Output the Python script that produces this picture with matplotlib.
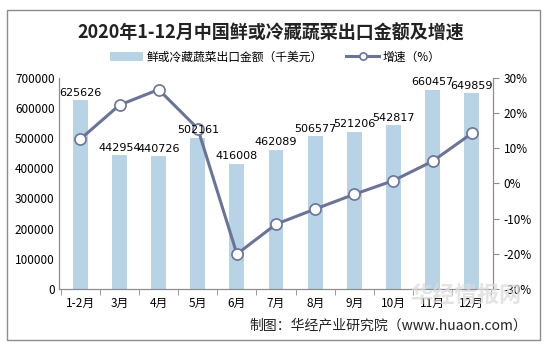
import matplotlib.pyplot as plt
import matplotlib.patches as patches
import numpy as np

plt.rcParams['font.family'] = ['Noto Sans CJK SC', 'DejaVu Sans']

# data
months = ['1-2月', '3月', '4月', '5月', '6月', '7月', '8月', '9月', '10月', '11月', '12月']
export_value = [625626, 442954, 440726, 502161, 416008, 462089, 506577, 521206, 542817, 660457, 649859]
growth = [12.6, 22.3, 26.7, 15.6, -20.1, -11.6, -7.3, -3.1, 0.8, 6.3, 14.2]

bar_color = '#b7d3e5'
line_color = '#6a7398'
axis_color = '#8c8c8c'

fig = plt.figure(figsize=(5.45, 3.48), dpi=100)
ax = fig.add_axes([0.108, 0.170, 0.797, 0.606])
x = np.arange(len(months))

ax.bar(x, export_value, width=0.38, color=bar_color, label='鲜或冷藏蔬菜出口金额（千美元）', zorder=1)

ax.set_ylim(0, 700000)
ax.set_yticks(range(0, 700001, 100000))
ax.set_xlim(-0.55, len(months) - 0.45)
ax.set_xticks(x)
ax.set_xticklabels(months)
ax.set_xticks(np.arange(-0.5, len(months), 1), minor=True)
ax.tick_params(axis='x', which='major', length=0, pad=6, labelsize=8.5)
ax.tick_params(axis='x', which='minor', length=4, color=axis_color, direction='out')
ax.tick_params(axis='y', length=0, labelsize=8.5, pad=3)
ax.spines['top'].set_visible(False)
for s in ['left', 'right', 'bottom']:
    ax.spines[s].set_color(axis_color)

ax2 = ax.twinx()
ax2.plot(x, growth, color=line_color, lw=2.2, marker='o', markersize=8,
         markerfacecolor='white', markeredgecolor=line_color, markeredgewidth=1.2,
         label='增速（%）', zorder=4)
ax2.set_ylim(-30, 30)
ax2.set_yticks(range(-30, 31, 10))
ax2.set_yticklabels([f'{t}%' for t in range(-30, 31, 10)])
ax2.tick_params(axis='y', length=4, color=axis_color, labelsize=8.5, direction='out')
ax2.spines['top'].set_visible(False)
for s in ['left', 'right', 'bottom']:
    ax2.spines[s].set_color(axis_color)

# bar value labels, drawn above the line
for xi, v in zip(x, export_value):
    ax2.text(xi, v + 8000, str(v), transform=ax.transData, ha='center', va='bottom',
             fontsize=8, family=['DejaVu Sans'], zorder=6)

h1, l1 = ax.get_legend_handles_labels()
h2, l2 = ax2.get_legend_handles_labels()
fig.legend(h1 + h2, l1 + l2, loc='center', bbox_to_anchor=(0.505, 0.836), ncol=2,
           frameon=False, fontsize=8.5, handlelength=2.8, columnspacing=2.0, handletextpad=0.3,
           markerscale=0.65)

fig.text(0.497, 0.905, '2020年1-12月中国鲜或冷藏蔬菜出口金额及增速', ha='center', va='center',
         fontsize=13, fontweight='bold', color='#222222')

# watermark
fig.text(0.855, 0.15, '华经情报网', ha='center', va='center', fontsize=16, fontweight='bold',
         color='#dcdcdc', alpha=0.75, zorder=0)

fig.text(0.967, 0.066, '制图：华经产业研究院（www.huaon.com）', ha='right', va='center',
         fontsize=10, color='#222222')

fig.patches.append(patches.Rectangle((0.013, 0.023), 0.978, 0.948, transform=fig.transFigure,
                                     fill=False, edgecolor='#8c8c8c', lw=1.0))

fig.savefig('out.png', dpi=100)
